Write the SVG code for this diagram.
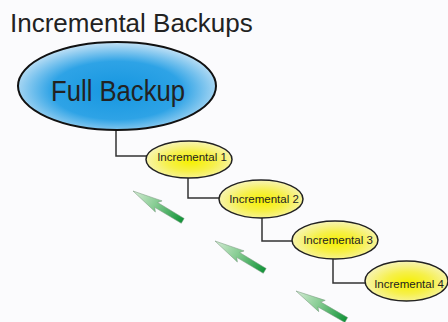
<svg xmlns="http://www.w3.org/2000/svg" width="448" height="322" viewBox="0 0 448 322">
<defs>
<radialGradient id="gBlue" cx="50%" cy="55%" r="55%">
<stop offset="0" stop-color="#1596e0"/>
<stop offset="0.6" stop-color="#2ea3e6"/>
<stop offset="1" stop-color="#c6e3f6"/>
</radialGradient>
<radialGradient id="gYel" cx="52%" cy="55%" r="55%">
<stop offset="0" stop-color="#f6f000"/>
<stop offset="0.5" stop-color="#f6f04a"/>
<stop offset="1" stop-color="#f7f4b8"/>
</radialGradient>
<linearGradient id="gArrow" x1="0" y1="0" x2="58" y2="0" gradientUnits="userSpaceOnUse">
<stop offset="0" stop-color="#d6ecd6"/>
<stop offset="0.45" stop-color="#86cc92"/>
<stop offset="1" stop-color="#119338"/>
</linearGradient>
<polygon id="arrow" points="0,0 30,-6.5 27,-2.8 58,-2.8 58,2.8 27,2.8 30,6.5"/>
</defs>
<style>
.t{font-family:"Liberation Sans",Arial,sans-serif;fill:#222;}
.inc ellipse{fill:url(#gYel);stroke:#222;stroke-width:1.5;}
.inc text{font-size:11.5px;text-anchor:middle;}
.conn path{fill:none;stroke:#333;stroke-width:1.5;}
.arr use{fill:url(#gArrow);stroke:#7a9a7e;stroke-width:0.5;}
</style>
<rect width="448" height="322" fill="#fbfbfd"/>
<text class="t" x="10" y="32" font-size="26">Incremental Backups</text>
<g id="connectors" class="conn">
<path d="M116,130 V156 H147"/>
<path d="M188,178 V198 H219"/>
<path d="M262,218 V241 H292"/>
<path d="M333,259 V283 H365"/>
</g>
<g id="full">
<ellipse cx="117" cy="86" rx="99" ry="44" fill="url(#gBlue)" stroke="#111" stroke-width="2"/>
<text class="t" x="118" y="101" font-size="29" text-anchor="middle" textLength="134" lengthAdjust="spacingAndGlyphs">Full Backup</text>
</g>
<g id="inc1" class="inc">
<ellipse cx="189" cy="159.5" rx="43" ry="18.5"/>
<text class="t" x="192" y="161">Incremental 1</text>
</g>
<g id="inc2" class="inc">
<ellipse cx="261" cy="199" rx="42" ry="19"/>
<text class="t" x="264" y="203">Incremental 2</text>
</g>
<g id="inc3" class="inc">
<ellipse cx="335" cy="240" rx="43" ry="19"/>
<text class="t" x="338" y="244">Incremental 3</text>
</g>
<g id="inc4" class="inc">
<ellipse cx="406.5" cy="281" rx="41.5" ry="20"/>
<text class="t" x="409" y="288">Incremental 4</text>
</g>
<g id="arrows" class="arr">
<use href="#arrow" transform="translate(133,191) rotate(31)"/>
<use href="#arrow" transform="translate(215,241) rotate(31)"/>
<use href="#arrow" transform="translate(296,291) rotate(30)"/>
</g>
</svg>
